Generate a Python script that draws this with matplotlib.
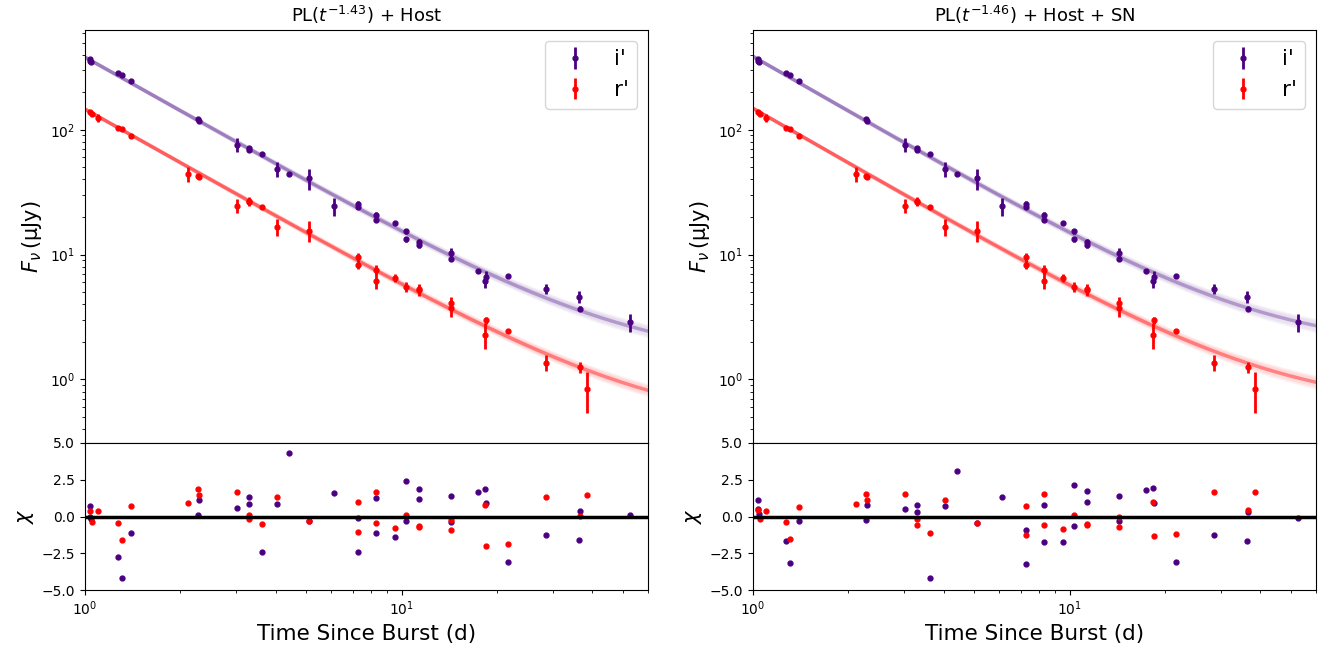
import numpy as np
import matplotlib
matplotlib.use("Agg")
import matplotlib.pyplot as plt

# observations (same for both panels)
t_i = [1.035, 1.04, 1.045, 1.275, 1.306, 1.395, 2.27, 2.29, 3.02, 3.29, 3.29, 3.61, 4.04, 4.41,
       5.09, 6.11, 7.3, 7.3, 8.32, 8.32, 9.52, 10.35, 10.35, 11.32, 11.32, 14.36, 14.36, 17.4,
       18.35, 18.5, 21.6, 28.6, 36.4, 36.7, 52.8]
f_i = [368, 358, 352, 284, 276, 244, 121, 117, 76, 71, 69, 64.3, 48.5, 44.2,
       41, 24.4, 25.6, 24.1, 20.9, 19.1, 18.0, 15.4, 13.3, 12.6, 12.0, 10.3, 9.24, 7.41,
       6.12, 6.63, 6.71, 5.31, 4.59, 3.70, 2.87]
e_i = [8, 8, 8, 6, 6, 5, 3, 3, 10, 2, 2, 1.5, 7, 1,
       7.8, 4, 1.2, 1.0, 1.2, 0.8, 0.5, 0.7, 0.6, 0.7, 0.6, 1.0, 0.4, 0.3,
       0.7, 0.7, 0.2, 0.5, 0.5, 0.15, 0.45]

t_r = [1.04, 1.05, 1.10, 1.275, 1.306, 1.395, 2.12, 2.27, 2.29, 3.02, 3.29, 3.29, 3.61, 4.04,
       5.09, 7.3, 7.3, 8.32, 8.32, 9.52, 10.35, 11.32, 11.32, 14.36, 14.36, 18.35, 18.5, 21.6,
       28.6, 36.7, 38.5]
f_r = [138, 133, 124, 104, 102, 88.4, 44.5, 42.5, 41.5, 24.7, 27, 26.5, 24.1, 16.8,
       15.6, 9.52, 8.32, 7.59, 6.19, 6.51, 5.51, 5.3, 5.2, 4.11, 3.74, 2.29, 2.97, 2.45,
       1.36, 1.25, 0.84]
e_r = [3, 3, 9, 2, 2, 2, 6, 1.5, 1.5, 3, 2, 2, 0.8, 2.6,
       3, 0.7, 0.7, 0.6, 0.9, 0.5, 0.5, 0.5, 0.5, 0.5, 0.6, 0.55, 0.2, 0.1,
       0.2, 0.12, 0.3]

# residuals
chi_i_left = [0.69, -0.05, -0.2, -2.76, -4.15, -1.13, 0.07, 1.1, 0.6, 1.34, 0.86, -2.42, 0.88, 4.31,
              -0.3, 1.57, -0.07, -2.42, 1.27, -1.15, -1.42, 2.42, -0.32, 1.89, 1.22, 1.38, -0.35, 1.69,
              1.89, 0.93, -3.11, -1.29, -1.61, 0.39, 0.07]
chi_r_left = [0.35, -0.35, 0.35, -0.44, -1.59, 0.72, 0.95, 1.84, 1.43, 1.69, 0.12, -0.16, -0.53, 1.36,
              -0.3, 0.99, -1.04, 1.66, -0.41, -0.78, 0.12, -0.62, -0.71, -0.23, -0.9, 0.79, -2.0, -1.87,
              1.36, 0.05, 1.43]
chi_i_right = [1.1, 0.53, 0.19, -1.66, -3.15, -0.3, -0.23, 0.79, 0.51, 0.79, 0.3, -4.2, 0.72, 3.09,
               -0.44, 1.36, -0.92, -3.22, 0.76, -1.73, -1.75, 2.12, -0.62, 1.71, 0.97, 1.41, -0.3, 1.78,
               1.91, 0.93, -3.11, -1.24, -1.66, 0.28, -0.07]
chi_r_right = [0.46, -0.18, 0.39, -0.35, -1.56, 0.67, 0.83, 1.55, 1.1, 1.5, -0.14, -0.57, -1.13, 1.15,
               -0.44, 0.74, -1.26, 1.52, -0.57, -0.83, 0.12, -0.53, -0.6, -0.04, -0.71, 0.97, -1.35, -1.22,
               1.66, 0.46, 1.64]

# fit parameters: amplitude at 1 d, decay index, host flux
left_fit = {"i": (380, 1.43, 1.35), "r": (146, 1.43, 0.40)}
right_fit = {"i": (385, 1.46, 1.72), "r": (148, 1.46, 0.575)}
titles = [r"PL($t^{-1.43}$) + Host", r"PL($t^{-1.46}$) + Host + SN"]

c_i = "indigo"
c_r = "red"

fig = plt.figure(figsize=(13.32, 6.56), dpi=100)
x0s = [0.0638, 0.5653]
w = 0.4227
panels = [(left_fit, chi_i_left, chi_r_left), (right_fit, chi_i_right, chi_r_right)]
tt = np.logspace(0, np.log10(60), 300)

for k, (fit, chi_i, chi_r) in enumerate(panels):
    ax = fig.add_axes([x0s[k], 0.3247, w, 0.6296])
    axr = fig.add_axes([x0s[k], 0.1006, w, 0.2241], sharex=ax)

    # posterior-like band of model curves
    for band, col in [("i", "rebeccapurple"), ("r", "red")]:
        a, idx, host = fit[band]
        for d in np.linspace(-0.015, 0.015, 9):
            ax.plot(tt, a * tt ** -(idx + d) + host * (1 - 8 * d), color=col, alpha=0.05, lw=2.5)
        ax.plot(tt, a * tt ** -idx + host, color=col, alpha=0.4, lw=2.5)

    ax.errorbar(t_i, f_i, yerr=e_i, fmt="o", color=c_i, ms=3.5, elinewidth=2, label="i'")
    ax.errorbar(t_r, f_r, yerr=e_r, fmt="o", color=c_r, ms=3.5, elinewidth=2, label="r'")
    ax.set_xscale("log")
    ax.set_yscale("log")
    ax.set_xlim(1, 60)
    ax.set_ylim(0.31, 630)
    ax.set_ylabel(r"$F_\nu\,$(μJy)", fontsize=15)
    ax.set_title(titles[k], fontsize=13)
    ax.tick_params(labelbottom=False)
    ax.legend(loc="upper right", fontsize=15.5)

    axr.plot(t_i, chi_i, "o", color=c_i, ms=3.5)
    axr.plot(t_r, chi_r, "o", color=c_r, ms=3.5)
    axr.axhline(0, color="k", lw=2.5)
    axr.set_ylim(-5, 5)
    axr.set_yticks([-5, -2.5, 0, 2.5, 5])
    axr.set_ylabel(r"$\chi$", fontsize=15)
    axr.set_xlabel("Time Since Burst (d)", fontsize=15.5)

fig.savefig("out.png", dpi=100)
